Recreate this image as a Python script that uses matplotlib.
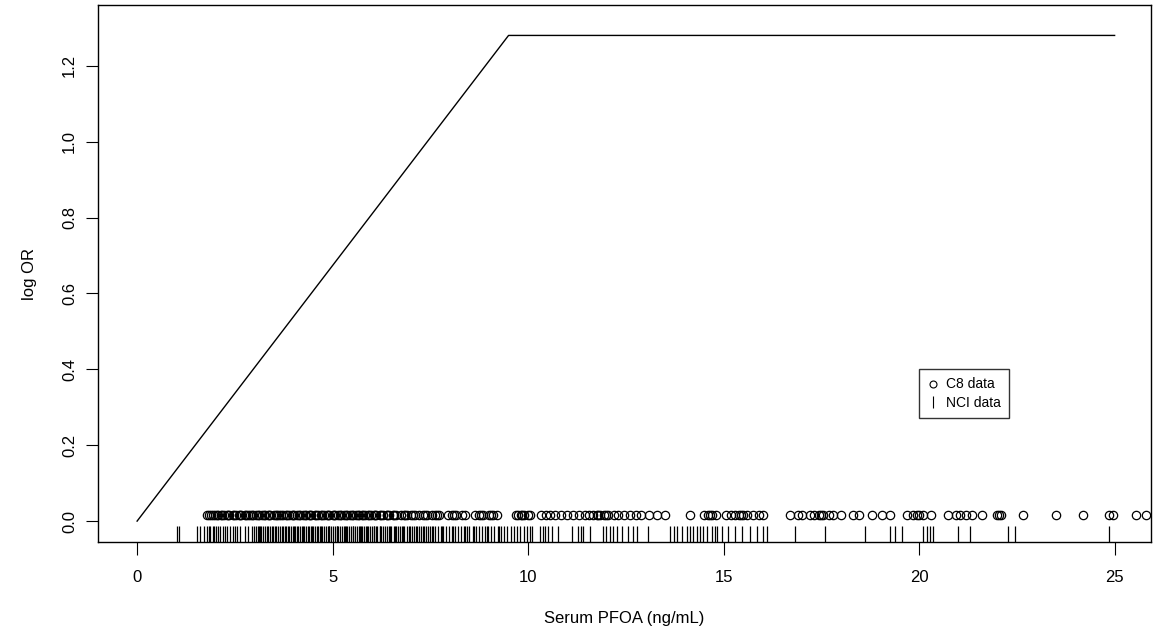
import numpy as np
import matplotlib
matplotlib.use("Agg")
import matplotlib.pyplot as plt
from matplotlib.lines import Line2D

plt.rcParams['font.family'] = ['Liberation Sans', 'DejaVu Sans']

# fitted piecewise-linear curve (knots)
curve_x = [0, 9.5, 25]
curve_y = [0, 1.28, 1.28]

# C8 study exposures (open circles)
c8_x = [1.78, 1.85, 1.93, 2.0, 2.08, 2.15, 2.22, 2.3, 2.36, 2.45, 2.52, 2.6, 2.66, 2.75,
        2.83, 2.9, 2.97, 3.05, 3.12, 3.2, 3.27, 3.35, 3.41, 3.5, 3.58, 3.64, 3.73, 3.8,
        3.88, 3.95, 4.02, 4.1, 4.17, 4.25, 4.32, 4.4, 4.46, 4.55, 4.62, 4.7, 4.77, 4.85,
        4.92, 5.0, 5.07, 5.15, 5.22, 5.3, 5.38, 5.45, 5.52, 5.6, 5.68, 5.75, 5.83, 5.9,
        5.98, 6.05, 6.12, 6.2, 6.3, 6.38, 6.45, 6.55, 6.62, 6.75, 6.82, 6.9, 7.0, 7.1,
        7.2, 7.3, 7.42, 7.55, 7.62, 7.72, 7.95, 8.05, 8.15, 8.3, 8.38, 8.65, 8.75, 8.85,
        9.0, 9.1, 9.2, 9.68, 9.75, 9.82, 9.9, 10.0, 10.05, 10.32, 10.45, 10.55, 10.7,
        10.85, 11.0, 11.15, 11.3, 11.45, 11.55, 11.65, 11.75, 11.85, 11.95, 12.05, 12.2,
        12.3, 12.45, 12.6, 12.75, 12.9, 13.1, 13.3, 13.5, 14.15, 14.5, 14.6, 14.7, 14.8,
        15.05, 15.2, 15.3, 15.4, 15.5, 15.6, 15.75, 15.9, 16.0, 16.7, 16.9, 17.0, 17.2,
        17.3, 17.45, 17.55, 17.7, 17.8, 18.0, 18.3, 18.45, 18.8, 19.05, 19.25, 19.7,
        19.85, 19.95, 20.1, 20.3, 20.75, 20.95, 21.05, 21.2, 21.35, 21.6, 22.0, 22.1,
        22.65, 23.5, 24.2, 24.85, 24.95, 25.55, 25.8,
        # extra overlapping subjects in the crowded low-exposure range
        1.88, 2.04, 2.18, 2.33, 2.48, 2.63, 2.79, 2.94, 3.09, 3.24, 3.38, 3.54, 3.69,
        3.84, 3.99, 4.14, 4.29, 4.43, 4.58, 4.74, 4.89, 5.04, 5.19, 5.34, 5.49, 5.64,
        5.79, 5.94, 6.09, 6.25, 6.4, 6.58, 6.86, 7.05, 7.36, 7.68, 8.1, 8.8, 9.05, 9.85,
        11.8, 12.0, 14.65, 15.45, 17.5, 20.0, 22.05]
c8_level = 0.015

# NCI study exposures (rug)
nci_x = [1.02, 1.07, 1.53, 1.61, 1.71, 1.8, 1.84, 1.87, 1.93, 1.97, 2.02, 2.08, 2.12,
         2.2, 2.25, 2.3, 2.38, 2.44, 2.5, 2.55, 2.63, 2.76, 2.84,
         2.94, 2.99, 3.03, 3.08, 3.14, 3.18, 3.22, 3.27, 3.33, 3.36, 3.41, 3.47, 3.52,
         3.55, 3.6, 3.66, 3.7, 3.74, 3.8, 3.85, 3.89, 3.93, 3.98, 4.04, 4.08, 4.12, 4.17,
         4.22, 4.27, 4.31, 4.36, 4.4, 4.45, 4.5, 4.54, 4.6, 4.63, 4.68, 4.73, 4.78, 4.82,
         4.87, 4.92, 4.96, 5.01, 5.06, 5.1, 5.15, 5.2, 5.24, 5.29, 5.34, 5.38, 5.43, 5.48,
         5.53, 5.57, 5.62, 5.67, 5.72, 5.76, 5.81, 5.86, 5.9, 5.95, 6.0, 6.05, 6.1, 6.14,
         6.2, 6.25, 6.3, 6.34, 6.4, 6.46, 6.5, 6.56, 6.62, 6.67, 6.72, 6.78, 6.83, 6.9,
         6.96, 7.02, 7.07, 7.13, 7.2, 7.25, 7.31, 7.38, 7.44, 7.5, 7.57, 7.63, 7.7, 7.76,
         7.83, 7.9, 7.97, 8.05, 8.12, 8.2, 8.28, 8.35, 8.43, 8.5, 8.58, 8.66, 8.74, 8.82,
         8.9, 8.98, 9.06, 9.14, 9.22, 9.3, 9.38, 9.47, 9.55, 9.63, 9.72, 9.8, 9.9, 9.98,
         10.05, 10.1, 10.3, 10.37, 10.43, 10.51, 10.61, 10.77, 11.13, 11.28, 11.35, 11.41,
         11.59, 11.92, 12.0, 12.1, 12.17, 12.28, 12.4, 12.56, 12.69, 12.79, 13.07, 13.63,
         13.72, 13.81, 13.94, 14.07, 14.14, 14.22, 14.32, 14.4, 14.48, 14.58, 14.71,
         14.78, 14.83, 14.96, 15.12, 15.29, 15.47, 15.68, 15.86, 16.01, 16.11, 16.83,
         17.6, 18.62, 19.26, 19.39, 19.57, 20.1, 20.2, 20.28, 20.36, 21.0, 21.3, 22.28,
         22.46, 24.85,
         # extra cases in the crowded range
         3.11, 3.44, 3.77, 4.01, 4.24, 4.48, 4.7, 4.9, 5.12, 5.31, 5.51, 5.69, 5.88,
         6.07, 6.22, 6.43, 6.6, 6.81, 6.99, 7.16, 7.34, 7.53, 7.8, 8.08, 8.39, 8.62,
         8.94, 9.26]

x_ticks = [0, 5, 10, 15, 20, 25]
y_ticks = [0.0, 0.2, 0.4, 0.6, 0.8, 1.0, 1.2]

fig = plt.figure(figsize=(11.57, 6.35), dpi=100)
ax = fig.add_axes([0.0847, 0.1465, 0.9101, 0.8455])

ax.plot(curve_x, curve_y, color='black', lw=1.0)
ax.plot(c8_x, [c8_level] * len(c8_x), 'o', mfc='none', mec='black', ms=6, mew=0.9)
ax.vlines(nci_x, 0, 0.03, color='black', lw=0.9, transform=ax.get_xaxis_transform())

ax.set_xlim(-1.0, 25.93)
ax.set_ylim(-0.055, 1.36)
ax.set_xticks(x_ticks)
ax.set_xticklabels([str(t) for t in x_ticks])
ax.set_yticks(y_ticks)
ax.set_yticklabels(['%.1f' % t for t in y_ticks])
plt.setp(ax.get_yticklabels(), rotation=90, va='center')
ax.tick_params(length=9, width=0.8, labelsize=12)
ax.tick_params(axis='x', pad=11)
ax.tick_params(axis='y', pad=6)
ax.set_xlabel('Serum PFOA (ng/mL)', fontsize=12, labelpad=19)
ax.set_ylabel('log OR', fontsize=12, labelpad=18)
for s in ax.spines.values():
    s.set_linewidth(1.0)

handles = [Line2D([], [], ls='none', marker='o', mfc='none', mec='black', ms=5, mew=0.8),
           Line2D([], [], ls='none', marker='|', color='black', ms=9, mew=0.8)]
leg = ax.legend(handles, ['C8 data', 'NCI data'], loc='upper left',
                bbox_to_anchor=(0.78, 0.322), fontsize=10, frameon=True, fancybox=False,
                handlelength=0.8, handletextpad=0.5, borderpad=0.6, labelspacing=0.3,
                borderaxespad=0)
leg.get_frame().set_edgecolor('black')
leg.get_frame().set_linewidth(1.0)

fig.savefig('out.png', dpi=100)
